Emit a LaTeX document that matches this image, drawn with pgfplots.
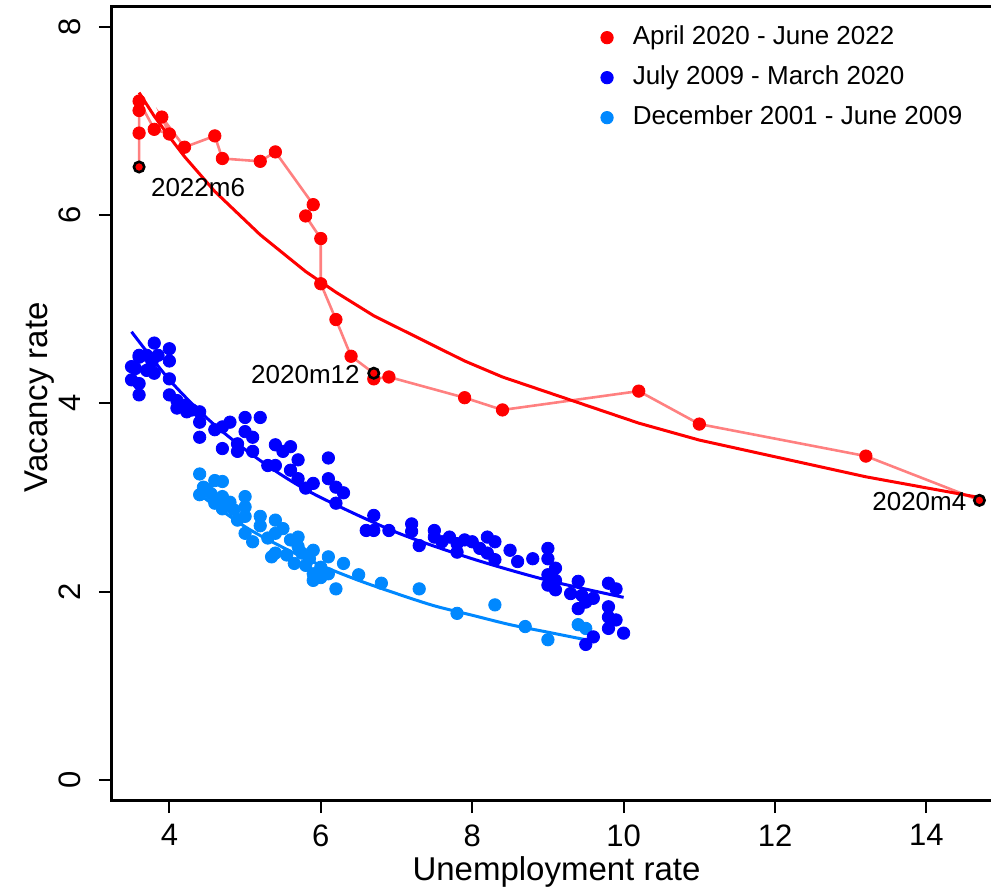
\documentclass[border=0pt]{standalone}
\usepackage{fontspec}
\setmainfont{Liberation Sans}
\usepackage{pgfplots}
\pgfplotsset{compat=1.18}
\definecolor{vred}{RGB}{255,0,0}
\definecolor{vpink}{RGB}{255,128,128}
\definecolor{vblue}{RGB}{0,0,255}
\definecolor{vlblue}{RGB}{0,136,255}
\begin{document}
\begin{tikzpicture}
\begin{axis}[
 name=ax, at={(0,0)}, anchor=south west,
 scale only axis, width=444.5pt, height=396.65pt,
 xmin=3.242, xmax=14.985, ymin=-0.212, ymax=8.212,
 xtick={4,6,8,10,12,14}, ytick={0,2,4,6,8},
 xtick pos=bottom, ytick pos=left,
 tick align=outside, major tick length=6.5pt,
 tick style={black, line width=1pt},
 axis line style={line width=1.5pt},
 /pgf/number format/assume math mode=true,
 ticklabel style={font=\fontsize{15.5}{18}\selectfont},
 xticklabel style={anchor=north, yshift=-3.5pt, inner sep=2pt},
 yticklabel style={xshift=-5.8pt, rotate=90, anchor=south},
 xlabel={Unemployment rate}, ylabel={Vacancy rate},
 label style={font=\fontsize{16.5}{19}\selectfont},
 xlabel style={at={(axis description cs:0.5,-0.1015)}, anchor=base, inner sep=1pt},
 ylabel style={at={(axis description cs:-0.072,0.5076)}, anchor=base, rotate=0},
 legend style={draw=none, fill=none, at={(axis description cs:0.5427,0.9829)}, anchor=north west,
   font=\fontsize{13}{15}\selectfont, column sep=9.75pt, row sep=7pt,
   nodes={inner sep=0pt, text height=10pt, text depth=3pt}},
 legend cell align=left,
 legend image code/.code={\draw[#1] plot coordinates {(0pt,0pt)};},
 every axis plot/.append style={mark size=3.1pt},
]
\addlegendimage{color=vred, only marks, mark=*, mark options={fill=vred}}
\addlegendentry{April 2020 - June 2022}
\addlegendimage{color=vblue, only marks, mark=*, mark options={fill=vblue}}
\addlegendentry{July 2009 - March 2020}
\addlegendimage{color=vlblue, only marks, mark=*, mark options={fill=vlblue}}
\addlegendentry{December 2001 - June 2009}

% Dec 2001 - Jun 2009
\addplot[forget plot, color=vlblue, only marks, mark=*, mark options={fill=vlblue}] coordinates {
(4.4,3.25)(4.45,3.11)(4.6,3.18)(4.7,3.17)(4.4,3.03)(4.55,3.04)(4.7,3.01)(4.6,2.94)(4.7,2.88)
(5.0,3.01)(5.0,2.90)(4.85,2.87)(4.9,2.76)(5.0,2.80)(5.2,2.80)(5.0,2.62)(5.1,2.53)(5.4,2.76)
(5.5,2.67)(5.3,2.57)(5.4,2.62)(5.6,2.55)(5.7,2.58)(5.7,2.48)(5.4,2.41)(5.55,2.39)(5.75,2.41)
(5.9,2.44)(5.85,2.35)(6.1,2.37)(5.65,2.30)(5.8,2.28)(6.0,2.26)(6.1,2.19)(6.3,2.30)(6.5,2.18)
(5.9,2.19)(5.9,2.12)(6.2,2.03)(6.8,2.09)(7.3,2.03)(7.8,1.77)(8.3,1.86)(8.7,1.63)(9.0,1.49)
(9.4,1.65)(9.5,1.61)(4.5,3.08)(4.8,2.95)(5.35,2.37)(6.0,2.15)(5.2,2.70)};
\addplot[forget plot, vlblue, line width=1.5pt, smooth] coordinates {
(4.4,3.03)(5.0,2.69)(5.5,2.47)(6.0,2.28)(6.5,2.12)(7.0,1.98)(7.5,1.85)(8.0,1.75)(8.5,1.65)(9.0,1.57)(9.5,1.49)};

% Jul 2009 - Mar 2020
\addplot[forget plot, color=vblue, only marks, mark=*, mark options={fill=vblue}] coordinates {
(3.8,4.64)(4.0,4.58)(4.0,4.45)(3.6,4.51)(3.5,4.39)(3.5,4.25)(3.6,4.21)(3.6,4.09)(3.55,4.37)
(3.7,4.35)(3.8,4.32)(3.77,4.44)(3.7,4.51)(3.6,4.49)(3.85,4.51)(4.0,4.26)(4.0,4.09)(4.1,4.03)
(4.1,3.95)(4.2,3.98)(4.23,3.91)(4.3,3.93)(4.4,3.91)(4.4,3.80)(4.4,3.64)(4.6,3.72)(4.7,3.75)
(4.8,3.80)(5.0,3.85)(5.2,3.85)(5.0,3.70)(5.1,3.64)(4.7,3.52)(4.9,3.57)(4.9,3.49)(5.1,3.49)
(5.4,3.56)(5.3,3.34)(5.4,3.34)(5.6,3.54)(5.5,3.49)(5.7,3.40)(6.1,3.42)(5.6,3.29)(5.7,3.20)
(5.9,3.15)(5.8,3.10)(6.1,3.20)(6.2,3.11)(6.3,3.05)(6.2,2.94)(6.7,2.81)(6.6,2.65)(6.7,2.65)
(6.9,2.65)(7.2,2.72)(7.2,2.64)(7.3,2.49)(7.5,2.65)(7.5,2.58)(7.7,2.58)(7.6,2.53)(7.8,2.51)
(7.8,2.42)(7.9,2.55)(8.0,2.53)(8.2,2.58)(8.3,2.53)(8.1,2.46)(8.2,2.41)(8.3,2.34)(8.5,2.44)
(8.6,2.32)(8.8,2.35)(9.0,2.46)(9.0,2.35)(9.1,2.25)(9.0,2.18)(9.1,2.12)(9.0,2.07)(9.1,2.02)
(9.4,2.11)(9.3,1.98)(9.45,1.96)(9.6,1.93)(9.5,1.89)(9.4,1.82)(9.8,2.09)(9.9,2.03)(9.8,1.84)
(9.8,1.73)(9.9,1.70)(9.8,1.61)(10.0,1.56)(9.6,1.52)(9.5,1.44)};
\addplot[forget plot, vblue, line width=1.5pt, smooth] coordinates {
(3.5,4.76)(4.0,4.25)(4.5,3.84)(5.0,3.51)(5.5,3.23)(6.0,3.00)(7.0,2.63)(8.0,2.35)(9.0,2.12)(10.0,1.94)};

% Apr 2020 - Jun 2022
\addplot[forget plot, vpink, line width=1.3pt] coordinates {
(14.7,2.97)(13.2,3.44)(11.0,3.78)(10.2,4.13)(8.4,3.93)(7.9,4.06)(6.9,4.28)(6.7,4.26)(6.7,4.32)
(6.4,4.50)(6.2,4.89)(6.0,5.27)(6.0,5.75)(5.8,5.99)(5.9,6.11)(5.4,6.67)(5.2,6.57)(4.7,6.60)
(4.6,6.84)(4.2,6.72)(3.9,7.04)(4.0,6.86)(3.8,6.91)(3.6,7.21)(3.6,7.11)(3.6,6.87)(3.6,6.51)};
\addplot[forget plot, color=vred, only marks, mark=*, mark options={fill=vred}] coordinates {
(13.2,3.44)(11.0,3.78)(10.2,4.13)(8.4,3.93)(7.9,4.06)(6.9,4.28)(6.7,4.26)
(6.4,4.50)(6.2,4.89)(6.0,5.27)(6.0,5.75)(5.8,5.99)(5.9,6.11)(5.4,6.67)(5.2,6.57)(4.7,6.60)
(4.6,6.84)(4.2,6.72)(3.9,7.04)(4.0,6.86)(3.8,6.91)(3.6,7.21)(3.6,7.11)(3.6,6.87)};
\addplot[forget plot, vred, line width=1.5pt] coordinates {
(3.6,7.30)(3.8,7.05)(4.0,6.83)(4.2,6.62)(4.6,6.25)(5.2,5.79)(5.8,5.40)(6.2,5.18)(6.7,4.93)
(7.9,4.45)(8.4,4.28)(10.2,3.79)(11.0,3.61)(13.2,3.22)(14.7,3.00)};
\addplot[forget plot, black, only marks, mark=*, mark size=2.6pt, mark options={fill=vred, draw=black, line width=1.3pt}] coordinates {
(14.7,2.97)(6.7,4.32)(3.6,6.51)};
\node[anchor=west, inner sep=0pt, font=\fontsize{13}{15}\selectfont] at (axis cs:3.753,6.29) {2022m6};
\node[anchor=east, inner sep=0pt, font=\fontsize{13}{15}\selectfont] at (axis cs:6.518,4.31) {2020m12};
\node[anchor=east, inner sep=0pt, font=\fontsize{13}{15}\selectfont] at (axis cs:14.532,2.96) {2020m4};
\end{axis}
\pgfresetboundingbox
\useasboundingbox ([shift={(-56pt,-45pt)}]ax.south west) rectangle ([shift={(439.5pt,3.35pt)}]ax.north west);
\end{tikzpicture}
\end{document}
